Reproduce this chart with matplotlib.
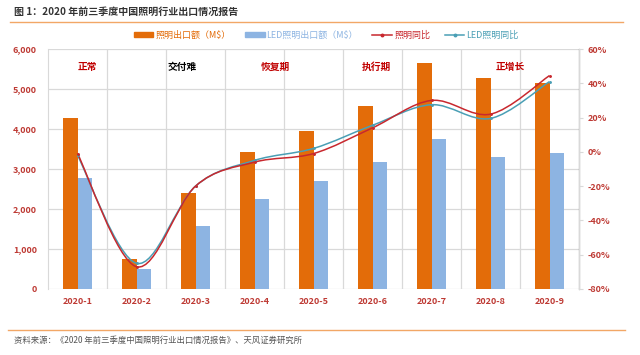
import matplotlib
matplotlib.use("Agg")
import matplotlib.pyplot as plt
from matplotlib.path import Path
from matplotlib.patches import PathPatch, Patch
from matplotlib.lines import Line2D
from matplotlib.ticker import FuncFormatter, MultipleLocator
import numpy as np

plt.rcParams['font.family'] = ['Noto Sans CJK SC', 'DejaVu Sans']

months = ['2020-1', '2020-2', '2020-3', '2020-4', '2020-5', '2020-6', '2020-7', '2020-8', '2020-9']
lighting_export = [4265, 745, 2405, 3435, 3960, 4575, 5645, 5270, 5140]
led_export = [2785, 495, 1575, 2250, 2700, 3185, 3750, 3310, 3395]
lighting_yoy = [-1, -67, -20, -6, -1, 14, 30, 22, 44.5]
led_yoy = [-2, -65, -20, -5, 2, 15.5, 27.5, 19.5, 41]
phases = ['正常', '交付难', '恢复期', '执行期', '正增长']
phase_x = [0.16, 1.77, 3.35, 5.06, 7.33]

title = '图 1：2020 年前三季度中国照明行业出口情况报告'
source = '资料来源：《2020 年前三季度中国照明行业出口情况报告》、天风证券研究所'

C_OR = '#E36C09'
C_BL = '#8DB4E2'
C_RED = '#C8282E'
C_TEAL = '#4A9FB5'
C_TICK = '#BE3A34'
C_GRID = '#D9D9D9'

fig = plt.figure(figsize=(6.4, 3.55), dpi=100)
ax = fig.add_axes([48/640, 1-289/355, (579-48)/640, (289-49)/355])
ax2 = ax.twinx()

x = np.arange(len(months))
w = 0.25
ax.bar(x - w/2, lighting_export, w, color=C_OR, zorder=2)
ax.bar(x + w/2, led_export, w, color=C_BL, zorder=2)

ax.set_xlim(-0.5, len(months) - 0.5)
ax.set_ylim(0, 6000)
ax.yaxis.set_major_locator(MultipleLocator(1000))
ax.yaxis.set_major_formatter(FuncFormatter(lambda v, p: f'{int(v):,}'))
ax.set_xticks(x)
ax.set_xticklabels(months)
ax.set_xticks(np.arange(0.5, len(months) - 0.5, 1), minor=True)
ax.grid(axis='y', which='major', color=C_GRID, lw=0.9, zorder=0)
ax.grid(axis='x', which='minor', color=C_GRID, lw=0.9, zorder=0)
ax.set_axisbelow(True)
ax.tick_params(axis='x', which='both', length=0, pad=6)
ax.tick_params(axis='y', length=0, pad=8)
for lab in ax.get_xticklabels() + ax.get_yticklabels():
    lab.set_color(C_TICK)
    lab.set_fontweight('bold')
    lab.set_fontsize(6.5)

for s in ['top']:
    ax.spines[s].set_visible(False)
    ax2.spines[s].set_visible(False)
ax.spines['bottom'].set_visible(False)
ax2.spines['bottom'].set_visible(False)
ax.spines['left'].set_color(C_GRID)
ax2.spines['left'].set_visible(False)
ax2.spines['right'].set_color(C_GRID)

ax2.set_ylim(-80, 60)
ax2.yaxis.set_major_locator(MultipleLocator(20))
ax2.yaxis.set_major_formatter(FuncFormatter(lambda v, p: f'{int(round(v))}%'))
ax2.tick_params(axis='y', length=3, color=C_GRID, pad=3)
for lab in ax2.get_yticklabels():
    lab.set_color(C_TICK)
    lab.set_fontweight('bold')
    lab.set_fontsize(6.5)


def smooth_path(xs, ys):
    pts = np.column_stack([xs, ys]).astype(float)
    n = len(pts)
    verts = [pts[0]]
    codes = [Path.MOVETO]
    for i in range(n - 1):
        p0 = pts[i - 1] if i > 0 else pts[i]
        p1 = pts[i]
        p2 = pts[i + 1]
        p3 = pts[i + 2] if i + 2 < n else pts[i + 1]
        c1 = p1 + (p2 - p0) / 6.0
        c2 = p2 - (p3 - p1) / 6.0
        verts += [c1, c2, p2]
        codes += [Path.CURVE4] * 3
    return Path(verts, codes)

for ys, col in [(led_yoy, C_TEAL), (lighting_yoy, C_RED)]:
    ax2.add_patch(PathPatch(smooth_path(x, ys), fill=False, edgecolor=col, lw=1.1, zorder=3))
    ax2.plot(x, ys, ls='none', marker='o', ms=1.1, color=col, zorder=4)

for name, px in zip(phases, phase_x):
    ax.text(px, 5560, name, ha='center', va='center', fontsize=7, fontweight='bold',
            color='black' if name == '交付难' else '#C00000', zorder=5)

handles = [Patch(color=C_OR), Patch(color=C_BL),
           Line2D([0], [0], color=C_RED, lw=1.1, marker='o', ms=1.8),
           Line2D([0], [0], color=C_TEAL, lw=1.1, marker='o', ms=1.8)]
labels = ['照明出口额（M$）', 'LED照明出口额（M$）', '照明同比', 'LED照明同比']
leg = fig.legend(handles, labels, ncol=4, loc='center', bbox_to_anchor=(326/640, 1-35/355),
                 frameon=False, fontsize=6.5, handlelength=2.2, handleheight=0.5,
                 columnspacing=1.6, handletextpad=0.2,
                 labelcolor=[C_OR, C_BL, C_RED, C_TEAL])

fig.text(14/640, 1-12/355, title, fontsize=7.2, fontweight='bold', color='#333333',
         ha='left', va='center')
fig.add_artist(Line2D([10/640, 623/640], [1-22/355, 1-22/355], color='#F2A766', lw=1.0))
fig.add_artist(Line2D([8/640, 625/640], [1-330/355, 1-330/355], color='#F2A766', lw=1.0))
fig.text(14/640, 1-340/355, source, fontsize=6, color='#555555', ha='left', va='center')

fig.savefig('out.png', dpi=100)
